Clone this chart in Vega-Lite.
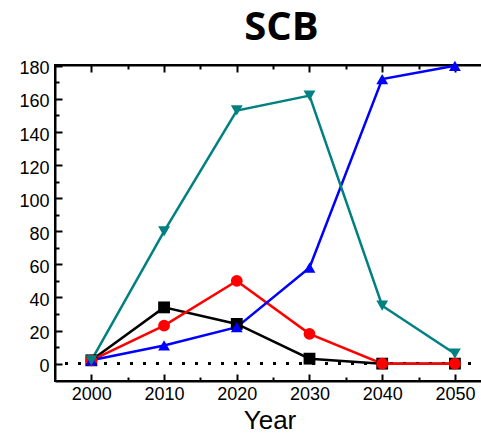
{
  "$schema": "https://vega.github.io/schema/vega-lite/v6.json",
  "autosize": {"type": "none"},
  "width": 429,
  "height": 316,
  "padding": {"left": 55, "top": 65, "right": 0, "bottom": 52},
  "background": "white",
  "config": {"view": {"stroke": "black", "strokeWidth": 2}},
  "title": {"text": "SCB", "anchor": "middle", "fontSize": 40, "fontWeight": "bold", "font": "Open Sans", "color": "black", "baseline": "alphabetic", "offset": -20, "dx": 12},
  "data": {"values": [
    {"year": 2000, "value": 2, "series": "A"},
    {"year": 2010, "value": 34, "series": "A"},
    {"year": 2020, "value": 24, "series": "A"},
    {"year": 2030, "value": 3, "series": "A"},
    {"year": 2040, "value": 0, "series": "A"},
    {"year": 2050, "value": 0, "series": "A"},
    {"year": 2000, "value": 2, "series": "B"},
    {"year": 2010, "value": 23, "series": "B"},
    {"year": 2020, "value": 50, "series": "B"},
    {"year": 2030, "value": 18, "series": "B"},
    {"year": 2040, "value": 0, "series": "B"},
    {"year": 2050, "value": 0, "series": "B"},
    {"year": 2000, "value": 2, "series": "C"},
    {"year": 2010, "value": 11, "series": "C"},
    {"year": 2020, "value": 22, "series": "C"},
    {"year": 2030, "value": 58, "series": "C"},
    {"year": 2040, "value": 172, "series": "C"},
    {"year": 2050, "value": 180, "series": "C"},
    {"year": 2000, "value": 2, "series": "D"},
    {"year": 2010, "value": 80, "series": "D"},
    {"year": 2020, "value": 153, "series": "D"},
    {"year": 2030, "value": 162, "series": "D"},
    {"year": 2040, "value": 35, "series": "D"},
    {"year": 2050, "value": 6, "series": "D"}
  ]},
  "resolve": {"axis": {"x": "independent", "y": "independent"}},
  "layer": [
    {
      "mark": {"type": "rule", "color": "black", "strokeWidth": 2.5, "strokeDash": [3, 10]},
      "encoding": {"y": {"datum": 0, "type": "quantitative", "scale": {"domain": [-10.5, 180.5], "nice": false, "zero": false}, "axis": null}}
    },
    {
      "mark": {"type": "line", "strokeWidth": 2.5},
      "encoding": {
        "x": {"field": "year", "type": "quantitative", "scale": {"domain": [1995, 2054], "nice": false, "zero": false},
          "axis": {"orient": "bottom", "values": [2000, 2005, 2010, 2015, 2020, 2025, 2030, 2035, 2040, 2045, 2050], "labelExpr": "datum.value % 10 === 0 ? datum.label : ''", "format": "d", "grid": false, "domain": true, "domainColor": "black", "domainWidth": 2, "tickColor": "black", "tickWidth": 2, "tickSize": {"condition": {"test": "datum.value % 10 === 0", "value": -7}, "value": -4}, "labelFont": "Liberation Sans", "labelFontSize": 18, "labelColor": "black", "labelPadding": 11, "title": "Year", "titleFont": "Liberation Sans", "titleFontSize": 26, "titleFontWeight": "normal", "titleColor": "black", "titlePadding": 4}},
        "y": {"field": "value", "type": "quantitative", "scale": {"domain": [-10.5, 180.5], "nice": false, "zero": false},
          "axis": {"orient": "left", "values": [0, 10, 20, 30, 40, 50, 60, 70, 80, 90, 100, 110, 120, 130, 140, 150, 160, 170, 180], "labelExpr": "datum.value % 20 === 0 ? datum.label : ''", "grid": false, "domain": true, "domainColor": "black", "domainWidth": 2, "tickColor": "black", "tickWidth": 2, "tickSize": {"condition": {"test": "datum.value % 20 === 0", "value": -7}, "value": -4}, "labelFont": "Liberation Sans", "labelFontSize": 18, "labelColor": "black", "labelPadding": 13, "labelBaseline": "middle", "labelOffset": 3, "title": null}},
        "color": {"field": "series", "type": "nominal", "scale": {"domain": ["A", "B", "C", "D"], "range": ["#000000", "#ff0000", "#0000ff", "#008080"]}, "legend": null}
      }
    },
    {
      "mark": {"type": "point", "filled": true, "opacity": 1, "size": 140},
      "encoding": {
        "x": {"field": "year", "type": "quantitative", "axis": null},
        "y": {"field": "value", "type": "quantitative", "axis": null},
        "color": {"field": "series", "type": "nominal", "legend": null},
        "shape": {"field": "series", "type": "nominal", "scale": {"domain": ["A", "B", "C", "D"], "range": ["square", "circle", "triangle-up", "triangle-down"]}, "legend": null}
      }
    },
    {
      "mark": {"type": "point", "opacity": 0},
      "encoding": {
        "x": {"field": "year", "type": "quantitative",
          "axis": {"orient": "top", "values": [2000, 2005, 2010, 2015, 2020, 2025, 2030, 2035, 2040, 2045, 2050], "labels": false, "grid": false, "domain": true, "domainColor": "black", "domainWidth": 2, "tickColor": "black", "tickWidth": 2, "tickSize": {"condition": {"test": "datum.value % 10 === 0", "value": -7}, "value": -4}, "title": null}},
        "y": {"field": "value", "type": "quantitative", "axis": null}
      }
    }
  ]
}
